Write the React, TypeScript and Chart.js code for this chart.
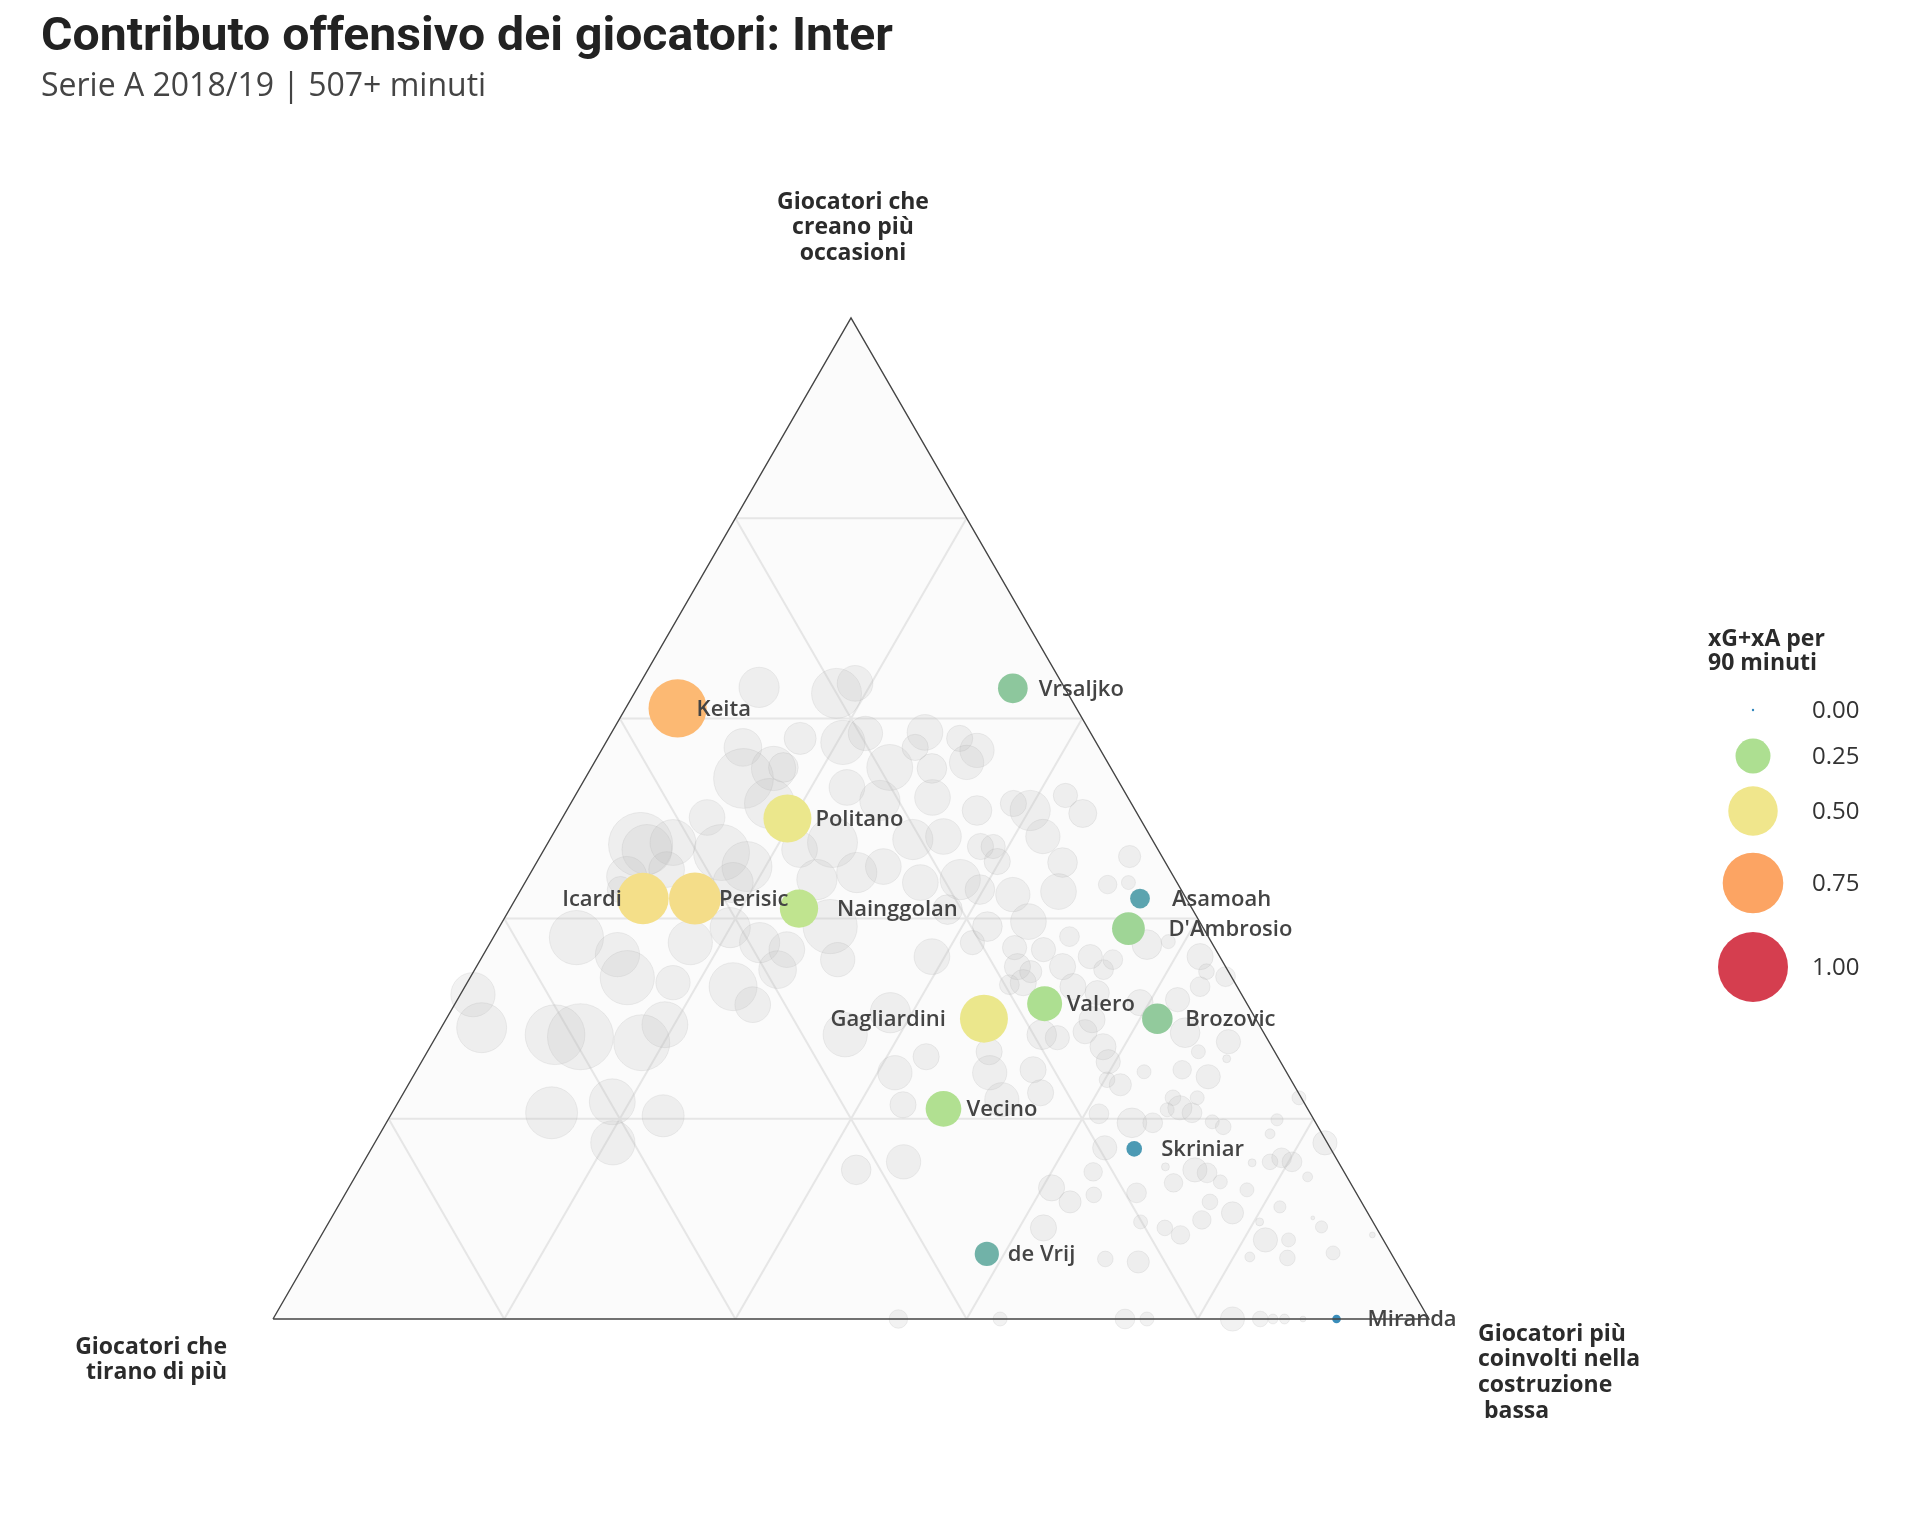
import React, { useEffect, useRef } from "react";
import { Chart, registerables } from "chart.js";

Chart.register(...registerables);

// ---------------- DATA ----------------
const titleText = "Contributo offensivo dei giocatori: Inter";
const subtitleText = "Serie A 2018/19 | 507+ minuti";

const axisTop = ["Giocatori che", "creano più", "occasioni"];
const axisLeft = ["Giocatori che", "tirano di più"];
const axisRight = ["Giocatori più", "coinvolti nella", "costruzione", " bassa"];

const legendTitle = ["xG+xA per", "90 minuti"];
const legendValues = [0, 0.25, 0.5, 0.75, 1.0];
const legendLabels = ["0.00", "0.25", "0.50", "0.75", "1.00"];

// Inter players: shares of the three profiles (creano / tirano / costruzione) and xG+xA per 90
const interNames = ["Keita", "Vrsaljko", "Politano", "Icardi", "Perisic", "Nainggolan", "Asamoah", "D'Ambrosio", "Gagliardini", "Valero", "Brozovic", "Vecino", "Skriniar", "de Vrij", "Miranda"];
const interCreano = [0.61, 0.63, 0.50, 0.42, 0.42, 0.41, 0.42, 0.39, 0.30, 0.315, 0.30, 0.21, 0.17, 0.065, 0.0];
const interTirano = [0.345, 0.045, 0.305, 0.47, 0.425, 0.34, 0.04, 0.065, 0.235, 0.175, 0.085, 0.315, 0.17, 0.35, 0.08];
const interCostruzione = [0.045, 0.325, 0.195, 0.11, 0.155, 0.25, 0.54, 0.545, 0.465, 0.51, 0.615, 0.475, 0.66, 0.585, 0.92];
const interXgXa = [0.69, 0.18, 0.47, 0.54, 0.55, 0.30, 0.08, 0.22, 0.47, 0.25, 0.19, 0.26, 0.05, 0.12, 0.015];

// Other Serie A players (grey)
const greyCreano = [
  .631, .625, .635, .571, .550, .540, .515, .501, .474, .469,
  .476, .466, .442, .449, .452, .436, .381, .364, .341, .376,
  .391, .376, .349, .332, .336, .324, .429, .576, .585, .551,
  .586, .571, .580, .568, .556, .550, .551, .531, .518, .521,
  .508, .515, .508, .523, .505, .479, .482, .472, .472, .482,
  .456, .476, .446, .452, .436, .439, .429, .424, .427, .434,
  .462, .409, .392, .397, .382, .392, .359, .362, .376, .352,
  .369, .352, .362, .359, .369, .436, .374, .377, .362, .347,
  .342, .349, .291, .284, .282, .294, .276, .314, .206, .217,
  .203, .176, .284, .306, .262, .246, .214, .267, .246, .249,
  .226, .219, .284, .281, .287, .272, .257, .234, .239, .157,
  .149, .131, .117, .147, .124, .171, .091, .126, .057, 0,
  0, 0, .336, .332, .326, .299, .316, .319, .332, .286,
  .277, .267, .260, .247, .249, .242, .221, .211, .221, .206,
  .209, .196, .196, .197, .192, .221, .199, .185, .176, .152,
  .149, .146, .137, .157, .161, .157, .156, .142, .136, .129,
  .117, .106, .112, .099, .097, .091, .084, .097, .101, .079,
  .079, .066, .062, 0, 0, 0, 0, 0, 0, .084,
  .205, .060, .092, .061, .580, .347, .334, .457, .371, .469,
  .439,
];
const greyTirano = [
  .264, .200, .179, .308, .292, .323, .313, .374, .445, .442,
  .416, .379, .473, .435, .364, .384, .547, .520, .523, .451,
  .409, .391, .389, .436, .486, .665, .485, .219, .195, .191,
  .143, .159, .116, .107, .122, .155, .283, .238, .216, .169,
  .137, .102, .091, .053, .047, .207, .179, .152, .141, .093,
  .089, .278, .272, .246, .222, .186, .174, .148, .107, .061,
  .028, .212, .186, .148, .120, .322, .332, .249, .207, .180,
  .149, .141, .112, .094, .371, .042, .057, .037, .017, .019,
  .005, .107, .674, .614, .593, .514, .543, .428, .656, .598,
  .561, .618, .363, .313, .304, .339, .348, .247, .257, .218,
  .223, .260, .193, .181, .154, .146, .149, .150, .159, .376,
  .421, .261, .252, .217, .228, .195, .288, .190, .223, .459,
  .371, .263, .183, .142, .124, .142, .092, .058, .032, .068,
  .035, .066, .045, .123, .089, .070, .111, .110, .090, .102,
  .122, .159, .141, .089, .082, .002, .032, .045, .002, .152,
  .128, .119, .112, .059, .047, .040, .075, .034, .153, .093,
  .131, .117, .073, .147, .201, .183, .173, .098, .050, .102,
  .082, .050, .124, .244, .170, .146, .135, .125, .109, .007,
  .183, .250, .047, .092, .254, .171, .196, .145, .173, .310,
  .310,
];
const greyCostruzione = [
  .105, .175, .186, .121, .158, .137, .172, .125, .081, .089,
  .108, .155, .085, .116, .184, .180, .072, .116, .136, .173,
  .200, .233, .262, .232, .178, .011, .086, .205, .220, .258,
  .271, .270, .304, .325, .322, .295, .166, .231, .266, .310,
  .355, .383, .401, .424, .448, .314, .339, .376, .387, .425,
  .455, .246, .282, .302, .342, .375, .397, .428, .466, .505,
  .510, .379, .422, .455, .498, .286, .309, .389, .417, .468,
  .482, .507, .526, .547, .260, .522, .569, .586, .621, .634,
  .653, .544, .035, .102, .125, .192, .181, .258, .138, .185,
  .236, .206, .353, .381, .434, .415, .438, .486, .497, .533,
  .551, .521, .523, .538, .559, .582, .594, .616, .602, .467,
  .430, .608, .631, .636, .648, .634, .621, .684, .720, .541,
  .629, .737, .481, .526, .550, .559, .592, .623, .636, .646,
  .688, .667, .695, .630, .662, .688, .668, .679, .689, .692,
  .669, .645, .663, .714, .726, .777, .769, .770, .822, .696,
  .723, .735, .751, .784, .792, .803, .769, .824, .711, .778,
  .752, .777, .815, .754, .702, .726, .743, .805, .849, .819,
  .839, .884, .814, .756, .830, .854, .865, .875, .891, .909,
  .612, .690, .861, .847, .166, .482, .470, .398, .456, .221,
  .251,
];
const greyXgXa = [
  .33, .51, .26, .29, .40, .73, .51, .26, .84, .51,
  .43, .64, .33, .26, .51, .33, .60, .40, .60, .40,
  .33, .33, .29, .47, .24, .40, .14, .40, .24, .43,
  .26, .14, .14, .24, .24, .18, .18, .26, .33, .26,
  .18, .14, .33, .12, .16, .33, .26, .14, .12, .24,
  .18, .51, .33, .26, .26, .33, .18, .24, .26, .07,
  .10, .18, .18, .26, .08, .60, .24, .26, .12, .14,
  .12, .14, .12, .08, .26, .04, .18, .04, .14, .05,
  .08, .08, .51, .73, .89, .43, .64, .26, .55, .43,
  .36, .40, .40, .33, .14, .24, .14, .14, .24, .14,
  .14, .24, .18, .12, .12, .14, .12, .10, .05, .24,
  .18, .14, .10, .07, .05, .12, .14, .08, .10, .07,
  .04, .08, .14, .14, .12, .14, .14, .12, .08, .18,
  .12, .04, .013, .04, .07, .12, .05, .12, .04, .08,
  .04, .18, .08, .04, .05, .04, .03, .02, .12, .013,
  .12, .08, .04, .05, .08, .08, .013, .02, .07, .04,
  .05, .10, .03, .07, .04, .05, .07, .013, .003, .12,
  .04, .04, .02, .04, .12, .05, .02, .02, .007, .007,
  .08, .05, .03, .05, .21, .10, .08, .14, .12, .26,
  .33,
];

const gridValues = [0.2, 0.4, 0.6, 0.8];

// colour scale for xG+xA (reversed Spectral-like)
const colorStops = [0, 0.125, 0.25, 0.375, 0.5, 0.625, 0.75, 0.875, 1];
const colorValues = ["#3288bd", "#74b4a7", "#addf91", "#dcec8c", "#f0e68c", "#fbd084", "#fca463", "#ec7356", "#d53e4f"];

// ---------------- STYLE / LAYOUT ----------------
const H = Math.sqrt(3) / 2;
const SIZE_REF = 35; // radius (px) for xG+xA = 1
const labelDx = [19, 26, 28, -21, 24, 38, 32, 40, -38, 22, 28, 23, 27, 21, 31];
const legendCenterX = 1753;
const legendYs = [710, 756, 811, 883, 967];
const FONT = '"Open Sans", "Noto Sans", sans-serif';
const TITLE_WIDTH = 852;

function toXY(a: number, b: number, c: number) {
  const s = a + b + c;
  return { x: (c + a / 2) / s, y: (a * H) / s };
}
function hexToRgb(h: string) {
  const n = parseInt(h.slice(1), 16);
  return [(n >> 16) & 255, (n >> 8) & 255, n & 255];
}
function colorFor(v: number) {
  const t = Math.max(0, Math.min(1, v));
  for (let i = 0; i < colorStops.length - 1; i++) {
    if (t <= colorStops[i + 1]) {
      const f = (t - colorStops[i]) / (colorStops[i + 1] - colorStops[i]);
      const c0 = hexToRgb(colorValues[i]);
      const c1 = hexToRgb(colorValues[i + 1]);
      const r = Math.round(c0[0] + (c1[0] - c0[0]) * f);
      const g = Math.round(c0[1] + (c1[1] - c0[1]) * f);
      const b = Math.round(c0[2] + (c1[2] - c0[2]) * f);
      return `rgb(${r},${g},${b})`;
    }
  }
  return colorValues[colorValues.length - 1];
}
function radiusFor(v: number) {
  return Math.max(SIZE_REF * Math.sqrt(Math.max(v, 0)), 1.2);
}

const backgroundPlugin = {
  id: "ternaryBackground",
  beforeDatasetsDraw(chart: any) {
    const { ctx, scales } = chart;
    const xs = scales.x;
    const ys = scales.y;
    ctx.save();
    ctx.beginPath();
    ctx.moveTo(xs.getPixelForValue(0), ys.getPixelForValue(0));
    ctx.lineTo(xs.getPixelForValue(1), ys.getPixelForValue(0));
    ctx.lineTo(xs.getPixelForValue(0.5), ys.getPixelForValue(H));
    ctx.closePath();
    ctx.fillStyle = "#fbfbfb";
    ctx.fill();
    ctx.restore();
  },
};

const overlayPlugin = {
  id: "ternaryOverlay",
  afterDatasetsDraw(chart: any) {
    const { ctx } = chart;
    ctx.save();
    // point labels for Inter players
    const meta = chart.getDatasetMeta(1);
    ctx.font = `600 22px ${FONT}`;
    ctx.fillStyle = "#444444";
    ctx.textBaseline = "middle";
    meta.data.forEach((el: any, i: number) => {
      const dx = labelDx[i];
      ctx.textAlign = dx < 0 ? "right" : "left";
      ctx.fillText(interNames[i], el.x + dx, el.y + 1);
    });

    // title (condensed to the reference width) + subtitle
    ctx.textBaseline = "alphabetic";
    ctx.textAlign = "left";
    ctx.fillStyle = "#222222";
    ctx.font = 'bold 47px Roboto, "DejaVu Sans", sans-serif';
    const w = ctx.measureText(titleText).width;
    ctx.save();
    ctx.translate(41, 50);
    ctx.scale(TITLE_WIDTH / w, 1);
    ctx.fillText(titleText, 0, 0);
    ctx.restore();
    ctx.fillStyle = "#444444";
    ctx.font = `32px ${FONT}`;
    ctx.fillText(subtitleText, 41, 96);

    // axis titles
    ctx.font = `bold 23px ${FONT}`;
    ctx.fillStyle = "#2b2b2b";
    ctx.textBaseline = "middle";
    ctx.textAlign = "center";
    axisTop.forEach((t, i) => ctx.fillText(t, 853, 202 + i * 25.5));
    ctx.textAlign = "right";
    axisLeft.forEach((t, i) => ctx.fillText(t, 227, 1347 + i * 25.5));
    ctx.textAlign = "left";
    axisRight.forEach((t, i) => ctx.fillText(t, 1478, 1334 + i * 25.8));

    // legend
    ctx.font = `bold 23px ${FONT}`;
    ctx.fillStyle = "#2b2b2b";
    legendTitle.forEach((t, i) => ctx.fillText(t, 1708, 639 + i * 24));
    legendValues.forEach((v, i) => {
      ctx.beginPath();
      ctx.arc(legendCenterX, legendYs[i], radiusFor(v), 0, Math.PI * 2);
      ctx.fillStyle = colorFor(v);
      ctx.fill();
    });
    ctx.font = `24px ${FONT}`;
    ctx.fillStyle = "#333333";
    legendLabels.forEach((t, i) => ctx.fillText(t, 1812, legendYs[i] + 1));
    ctx.restore();
  },
};

export default function App() {
  const canvasRef = useRef<HTMLCanvasElement | null>(null);

  useEffect(() => {
    const canvas = canvasRef.current;
    if (!canvas) return;

    const border = [toXY(0, 1, 0), toXY(0, 0, 1), toXY(1, 0, 0), toXY(0, 1, 0)];

    const gridDatasets: any[] = [];
    gridValues.forEach((k) => {
      const segs = [
        [toXY(k, 1 - k, 0), toXY(k, 0, 1 - k)],
        [toXY(1 - k, k, 0), toXY(0, k, 1 - k)],
        [toXY(1 - k, 0, k), toXY(0, 1 - k, k)],
      ];
      segs.forEach((s) =>
        gridDatasets.push({
          type: "line",
          data: s,
          borderColor: "#e6e6e6",
          borderWidth: 2,
          pointRadius: 0,
          fill: false,
          tension: 0,
          clip: false,
          order: 3,
        })
      );
    });

    const interData = interNames.map((_, i) => {
      const p = toXY(interCreano[i], interTirano[i], interCostruzione[i]);
      return { x: p.x, y: p.y, r: radiusFor(interXgXa[i]) };
    });
    const greyData = greyCreano.map((_, i) => {
      const p = toXY(greyCreano[i], greyTirano[i], greyCostruzione[i]);
      return { x: p.x, y: p.y, r: radiusFor(greyXgXa[i]) };
    });

    const chart = new Chart(canvas, {
      type: "bubble",
      data: {
        datasets: [
          {
            type: "line",
            data: border,
            borderColor: "#444444",
            borderWidth: 1.4,
            pointRadius: 0,
            fill: false,
            tension: 0,
            clip: false,
            order: 0,
          } as any,
          {
            type: "bubble",
            data: interData,
            backgroundColor: interXgXa.map((v) => colorFor(v)),
            borderWidth: 0,
            clip: false,
            order: 1,
          } as any,
          {
            type: "bubble",
            data: greyData,
            backgroundColor: "rgba(185,185,185,0.19)",
            borderColor: "rgba(175,175,175,0.2)",
            borderWidth: 1,
            clip: false,
            order: 2,
          } as any,
          ...gridDatasets,
        ],
      },
      options: {
        responsive: false,
        animation: false,
        devicePixelRatio: 1,
        events: [],
        layout: { padding: { left: 273, right: 491, top: 318, bottom: 217 } },
        scales: {
          x: { type: "linear", min: 0, max: 1, display: false },
          y: { type: "linear", min: 0, max: H, display: false },
        },
        plugins: {
          legend: { display: false },
          tooltip: { enabled: false },
          title: { display: false },
        },
      } as any,
      plugins: [backgroundPlugin, overlayPlugin],
    });

    let alive = true;
    if ((document as any).fonts && (document as any).fonts.ready) {
      (document as any).fonts.ready.then(() => {
        if (alive) chart.update();
      });
    }

    return () => {
      alive = false;
      chart.destroy();
    };
  }, []);

  return (
    <div style={{ position: "absolute", left: 0, top: 0, width: 1920, height: 1536, background: "#ffffff" }}>
      <canvas ref={canvasRef} width={1920} height={1536} style={{ display: "block", width: 1920, height: 1536 }} />
    </div>
  );
}
